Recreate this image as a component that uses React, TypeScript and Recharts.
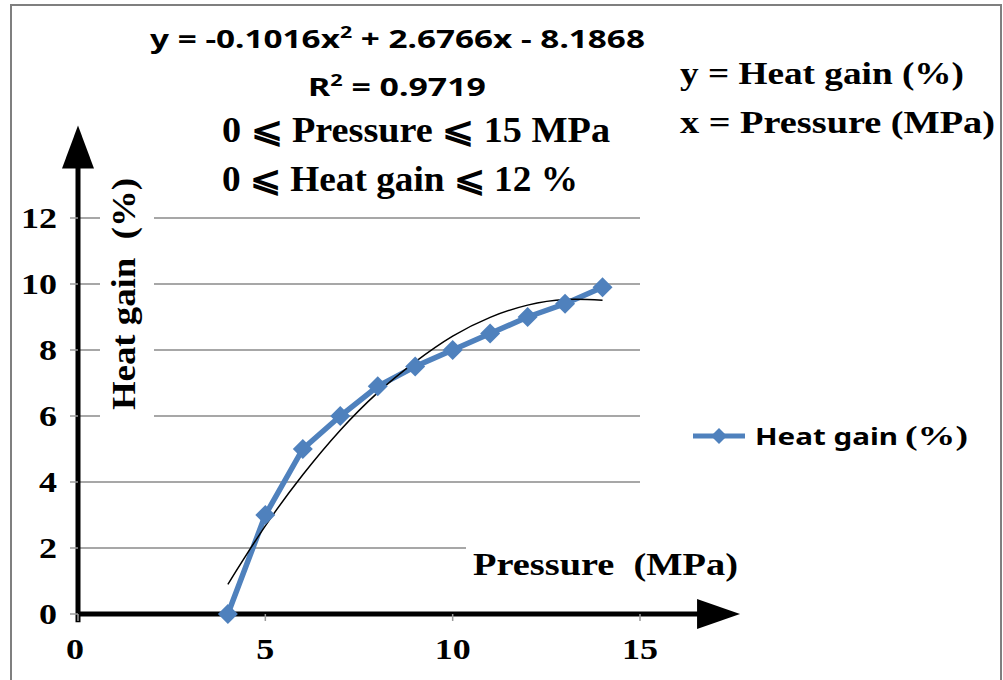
import React from 'react';
import {
  LineChart,
  Line,
  XAxis,
  YAxis,
  CartesianGrid,
  ReferenceLine,
  Legend,
  Customized,
} from 'recharts';

const pressure = [4, 5, 6, 7, 8, 9, 10, 11, 12, 13, 14];
const heatGain = [0, 3, 5, 6, 6.9, 7.5, 8, 8.5, 9, 9.4, 9.9];
const trendGain = [0.9, 2.67, 4.22, 5.57, 6.71, 7.64, 8.42, 8.99, 9.36, 9.53, 9.51];
const xTicks = [0, 5, 10, 15];
const yTicks = [0, 2, 4, 6, 8, 10, 12];

const data = pressure.map((x, i) => ({ x, heat: heatGain[i], trend: trendGain[i] }));

const BLUE = '#4F81BD';
const SERIF = '"Liberation Serif", "Times New Roman", serif';
const SANS = '"Noto Sans", "Open Sans", "DejaVu Sans", sans-serif';

const Diamond = (props: any) => {
  const { cx, cy } = props;
  if (cx == null || cy == null) return null;
  const r = 10;
  return (
    <polygon
      points={`${cx},${cy - r} ${cx + r},${cy} ${cx},${cy + r} ${cx - r},${cy}`}
      fill={BLUE}
    />
  );
};

const YTick = (props: any) => {
  const { x, y, payload } = props;
  const v = payload.value;
  return (
    <text
      x={x}
      y={y}
      dy={10}
      textAnchor="end"
      fontFamily={SERIF}
      fontWeight="bold"
      fontSize={30}
      fill="#000"
      textLength={v >= 10 ? 36 : 18}
      lengthAdjust="spacingAndGlyphs"
    >
      {v}
    </text>
  );
};

const XTick = (props: any) => {
  const { x, y, payload } = props;
  const v = payload.value;
  return (
    <text
      x={x - (v === 0 ? 3 : 0)}
      y={y}
      dy={38}
      textAnchor="middle"
      fontFamily={SERIF}
      fontWeight="bold"
      fontSize={30}
      fill="#000"
      textLength={v >= 10 ? 36 : 18}
      lengthAdjust="spacingAndGlyphs"
    >
      {v}
    </text>
  );
};

const XArrow = (props: any) => {
  const { x1, y1, x2, y2 } = props;
  return (
    <g>
      <line x1={x1} y1={y1} x2={x2 - 40} y2={y2} stroke="#000" strokeWidth={5} />
      <polygon points={`${x2},${y2} ${x2 - 43},${y2 - 15} ${x2 - 43},${y2 + 15}`} fill="#000" />
    </g>
  );
};

const YArrow = (props: any) => {
  const { x1, y1, x2, y2 } = props;
  return (
    <g>
      <line x1={x1} y1={y1} x2={x2} y2={y2 + 40} stroke="#000" strokeWidth={5} />
      <polygon points={`${x2},${y2} ${x2 - 16},${y2 + 43} ${x2 + 16},${y2 + 43}`} fill="#000" />
    </g>
  );
};

const Annotations = () => (
  <g>
    <rect x={11} y={5} width={990} height={700} fill="none" stroke="#7f7f7f" strokeWidth={2} />
    {/* white backgrounds behind axis titles */}
    <rect x={100} y={170} width={54} height={252} fill="#fff" />
    <rect x={466} y={536} width={280} height={50} fill="#fff" />
    <text
      x={150}
      y={48}
      fontFamily={SANS}
      fontWeight="bold"
      fontSize={25}
      fill="#000"
      textLength={495}
      lengthAdjust="spacingAndGlyphs"
    >
      y = -0.1016x<tspan dy={-10} fontSize={16}>2</tspan>
      <tspan dy={10}> + 2.6766x - 8.1868</tspan>
    </text>
    <text
      x={308}
      y={96}
      fontFamily={SANS}
      fontWeight="bold"
      fontSize={25}
      fill="#000"
      textLength={178}
      lengthAdjust="spacingAndGlyphs"
    >
      R<tspan dy={-10} fontSize={16}>2</tspan>
      <tspan dy={10}> = 0.9719</tspan>
    </text>
    <text
      x={222}
      y={142}
      fontFamily={SERIF}
      fontWeight="bold"
      fontSize={35}
      fill="#000"
      textLength={388}
      lengthAdjust="spacingAndGlyphs"
    >
      0 ⩽ Pressure ⩽ 15 MPa
    </text>
    <text
      x={222}
      y={191}
      fontFamily={SERIF}
      fontWeight="bold"
      fontSize={35}
      fill="#000"
      textLength={356}
      lengthAdjust="spacingAndGlyphs"
    >
      0 ⩽ Heat gain ⩽ 12 %
    </text>
    <text
      x={680}
      y={84}
      fontFamily={SERIF}
      fontWeight="bold"
      fontSize={32}
      fill="#000"
      textLength={284}
      lengthAdjust="spacingAndGlyphs"
    >
      y = Heat gain (%)
    </text>
    <text
      x={680}
      y={133}
      fontFamily={SERIF}
      fontWeight="bold"
      fontSize={32}
      fill="#000"
      textLength={315}
      lengthAdjust="spacingAndGlyphs"
    >
      x = Pressure (MPa)
    </text>
    <text
      x={473}
      y={575}
      fontFamily={SERIF}
      fontWeight="bold"
      fontSize={32}
      fill="#000"
      textLength={265}
      lengthAdjust="spacingAndGlyphs"
    >
      {'Pressure\u00A0 (MPa)'}
    </text>
    <text
      x={0}
      y={0}
      transform="translate(135, 410) rotate(-90)"
      fontFamily={SERIF}
      fontWeight="bold"
      fontSize={33}
      fill="#000"
      textLength={232}
      lengthAdjust="spacingAndGlyphs"
    >
      {'Heat gain\u00A0 (%)'}
    </text>
  </g>
);

const LegendContent = () => (
  <svg width={300} height={40} style={{ display: 'block', overflow: 'visible' }}>
    <line x1={5} y1={20} x2={57} y2={20} stroke={BLUE} strokeWidth={5} />
    <polygon points="31,12 39,20 31,28 23,20" fill={BLUE} />
    <text
      x={67}
      y={29}
      fontFamily={SANS}
      fontWeight="bold"
      fontSize={23}
      fill="#000"
      textLength={143}
      lengthAdjust="spacingAndGlyphs"
    >
      Heat gain
    </text>
    <text
      x={217}
      y={29}
      fontFamily={SERIF}
      fontWeight="bold"
      fontSize={28}
      fill="#000"
      textLength={63}
      lengthAdjust="spacingAndGlyphs"
    >
      (%)
    </text>
  </svg>
);

export default function App() {
  return (
    <div style={{ position: 'absolute', left: 0, top: 0, width: 1003, height: 680, background: '#fff' }}>
      <LineChart
        width={1003}
        height={680}
        data={data}
        margin={{ top: 218, right: 363, bottom: 26, left: 18 }}
      >
        <CartesianGrid horizontal vertical={false} stroke="#8a8a8a" strokeWidth={1.5} />
        <XAxis
          type="number"
          dataKey="x"
          domain={[0, 15]}
          ticks={xTicks}
          height={40}
          axisLine={false}
          tickLine={{ stroke: '#9a9a9a', strokeWidth: 1.5 }}
          tickSize={7}
          tickMargin={0}
          tick={<XTick />}
          interval={0}
        />
        <YAxis
          type="number"
          domain={[0, 12]}
          ticks={yTicks}
          width={60}
          axisLine={false}
          tickLine={{ stroke: '#9a9a9a', strokeWidth: 1.5 }}
          tickSize={8}
          tickMargin={13}
          tick={<YTick />}
          interval={0}
        />
        <Customized component={Annotations} />
        <ReferenceLine
          segment={[{ x: 0, y: 0 }, { x: 17.67, y: 0 }]}
          ifOverflow="visible"
          shape={<XArrow />}
        />
        <ReferenceLine
          segment={[{ x: 0, y: -0.25 }, { x: 0, y: 14.8 }]}
          ifOverflow="visible"
          shape={<YArrow />}
        />
        <Line
          type="linear"
          dataKey="heat"
          name="Heat gain (%)"
          stroke={BLUE}
          strokeWidth={5.5}
          dot={<Diamond />}
          activeDot={false}
          isAnimationActive={false}
        />
        <Line
          type="natural"
          dataKey="trend"
          name="trend"
          stroke="#000"
          strokeWidth={1.5}
          dot={false}
          activeDot={false}
          legendType="none"
          isAnimationActive={false}
        />
        <Legend
          layout="horizontal"
          verticalAlign="middle"
          align="center"
          content={<LegendContent />}
          wrapperStyle={{ position: 'absolute', left: 688, top: 416, width: 300, height: 40 }}
        />
      </LineChart>
    </div>
  );
}
